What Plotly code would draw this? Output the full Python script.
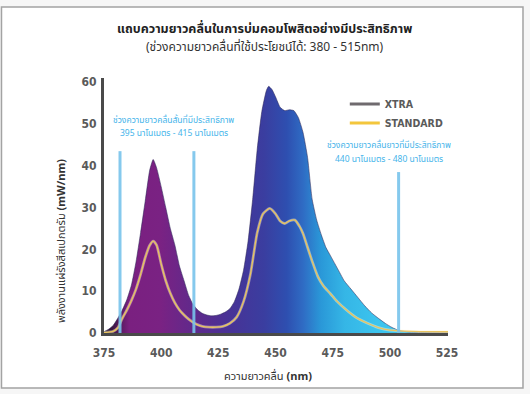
import plotly.graph_objects as go

# Spectral power readings (nm -> mW/nm)
xtra_nm = [375, 377, 379, 381, 383, 385, 387, 389, 391, 393, 395, 396.5, 398, 400, 402,
           404, 406, 408, 410, 412, 414, 416, 418, 420, 422, 424, 426, 428, 430, 432,
           434, 436, 438, 440, 442, 444, 446, 447, 448.5, 450, 452, 454, 456, 458, 460,
           462, 464, 466, 468, 470, 472, 474, 476, 478, 480, 483, 486, 489, 492, 495,
           498, 501, 504, 508, 515, 526]
xtra_val = [0.3, 0.9, 1.8, 3.5, 5.5, 8, 11.5, 17, 24, 31.5, 39, 41.5, 39.5, 35, 30,
            25, 21, 16, 12.5, 9, 6.8, 5.5, 4.7, 4.3, 4.1, 4.2, 4.5, 5.0, 5.8, 7.5,
            10.5, 15, 22, 32, 44, 53, 58, 59, 58.2, 56.5, 54, 53.2, 53.4, 53.2, 51.5,
            48, 42, 32, 27, 23.5, 20.5, 18.5, 16.5, 14.5, 12.5, 10.5, 8.5, 6.5, 4.8, 3.5,
            2.3, 1.3, 0.6, 0.25, 0.1, 0.05]

std_nm = [375, 379, 381, 383, 385, 387, 389, 391, 393, 395, 396.5, 398, 400, 402, 404,
          406, 408, 410, 412, 415, 418, 421, 424, 427, 430, 433, 436, 439, 442, 444.5,
          447.5, 450, 452, 454, 456, 458.5, 460.5, 462, 464, 466, 468.5, 471, 474, 477,
          481, 485, 490, 495, 500, 510, 526]
std_val = [0.1, 0.4, 1.2, 3.5, 5.5, 7.8, 10.5, 14, 18, 21, 22, 21, 16.5, 12.5, 9.5,
           7.2, 5.5, 4.3, 3.3, 2.2, 1.6, 1.4, 1.4, 1.6, 2.3, 3.8, 7.5, 14, 24, 28.5,
           29.8, 28.5, 26.8, 26.2, 26.8, 27, 25.5, 23.8, 20.5, 17.2, 13.5, 11.2, 9.4, 7.5,
           5.5, 3.8, 2.4, 1.3, 0.7, 0.4, 0.3]

# Vertical marker lines (nm) and their heights
marker_nm = [382, 414.3, 503.8]
marker_top = [43.5, 43.5, 38.5]

x_ticks = [375, 400, 425, 450, 475, 500, 525]
y_ticks = [0, 10, 20, 30, 40, 50, 60]

title_text = "<b>แถบความยาวคลื่นในการบ่มคอมโพสิตอย่างมีประสิทธิภาพ</b>"
subtitle_text = "(ช่วงความยาวคลื่นที่ใช้ประโยชน์ได้: 380 - 515nm)"
short_band = ["ช่วงความยาวคลื่นสั้นที่มีประสิทธิภาพ", "395 นาโนเมตร - 415 นาโนเมตร"]
long_band = ["ช่วงความยาวคลื่นยาวที่มีประสิทธิภาพ", "440 นาโนเมตร - 480 นาโนเมตร"]

COND = "Liberation Sans Narrow, DejaVu Sans Condensed, Roboto, sans-serif"
THAI = "Noto Sans Thai, Noto Sans, sans-serif"

spectrum_scale = [
    [0.00, "#1a1020"],
    [0.04, "#4a1850"],
    [0.085, "#7a2080"],
    [0.19, "#7a2283"],
    [0.31, "#5e2a8c"],
    [0.42, "#483296"],
    [0.54, "#3a3ea0"],
    [0.615, "#2e4fb0"],
    [0.67, "#2f6cc4"],
    [0.73, "#2a98d8"],
    [0.81, "#35b6e6"],
    [0.92, "#3cc4ee"],
    [1.00, "#3cc4ee"],
]

fig = go.Figure()

fig.add_trace(go.Scatter(
    x=xtra_nm, y=xtra_val, mode="lines", fill="tozeroy",
    line=dict(color="rgba(45,40,90,0.55)", width=1, shape="spline", smoothing=0.5),
    fillgradient=dict(type="horizontal", colorscale=spectrum_scale, start=375, stop=505),
    showlegend=False, hoverinfo="skip",
))

# Standard curve: soft halo under a thin yellow line
fig.add_trace(go.Scatter(
    x=std_nm, y=std_val, mode="lines",
    line=dict(color="rgba(255,245,215,0.45)", width=2.8, shape="spline", smoothing=0.6),
    showlegend=False, hoverinfo="skip",
))
fig.add_trace(go.Scatter(
    x=std_nm, y=std_val, mode="lines",
    line=dict(color="#e9c45e", width=1.3, shape="spline", smoothing=0.6),
    showlegend=False, hoverinfo="skip",
))

# Legend entries
fig.add_trace(go.Scatter(x=[None], y=[None], mode="lines", name="XTRA",
                         line=dict(color="#6f6a6e", width=3)))
fig.add_trace(go.Scatter(x=[None], y=[None], mode="lines", name="STANDARD",
                         line=dict(color="#f3c63c", width=3)))

shapes = []
# Outer frame
shapes.append(dict(type="rect", xref="paper", yref="paper",
                   x0=-0.298, x1=1.218, y0=-0.2157, y1=1.278,
                   line=dict(color="#a3a3a3", width=1.5), fillcolor="white", layer="below"))
for xm, top in zip(marker_nm, marker_top):
    shapes.append(dict(type="line", xref="x", yref="y", x0=xm, x1=xm, y0=0, y1=top,
                       line=dict(color="rgba(120,195,235,0.9)", width=3), layer="above"))


def label(text, x, y, size, color="#333", xref="paper", yref="paper", angle=0):
    return dict(text=text, xref=xref, yref=yref, x=x, y=y, showarrow=False,
                xanchor="center", yanchor="middle", textangle=angle,
                font=dict(family=THAI, size=size, color=color))


BAND_BLUE = "#45b4ea"
annotations = [
    label(title_text, 0.468, 1.192, 12.5, "#222"),
    label(subtitle_text, 0.468, 1.122, 12),
    label(short_band[0], 405.6, 50.9, 8.5, BAND_BLUE, "x", "y"),
    label(short_band[1], 405.6, 47.7, 8.5, BAND_BLUE, "x", "y"),
    label(long_band[0], 499.6, 44.9, 8.5, BAND_BLUE, "x", "y"),
    label(long_band[1], 499.6, 41.6, 8.5, BAND_BLUE, "x", "y"),
    label("พลังงานแผ่รังสีสเปกตรัม <b>(mW/nm)</b>", -0.122, 0.361, 11, angle=-90),
    label("ความยาวคลื่น <b>(nm)</b>", 0.477, -0.1725, 11),
]

fig.update_layout(
    width=530, height=394,
    margin=dict(l=104, r=82, t=78, b=61),
    paper_bgcolor="#f6f6f6",
    plot_bgcolor="rgba(0,0,0,0)",
    shapes=shapes,
    annotations=annotations,
    showlegend=True,
    legend=dict(x=0.70, y=0.955, xanchor="left", yanchor="top",
                bgcolor="rgba(0,0,0,0)",
                font=dict(family=COND, size=10.5, color="#5a5a5a", weight="bold"),
                tracegroupgap=0),
    xaxis=dict(range=[375, 525.4], tickvals=x_ticks, showgrid=False, zeroline=False,
               showline=True, linecolor="#4a4a4a", linewidth=3,
               ticks="outside", ticklen=7, tickcolor="rgba(0,0,0,0)",
               tickfont=dict(family=COND, size=12, color="#5a5a5a", weight="bold")),
    yaxis=dict(range=[0, 61], tickvals=y_ticks, showgrid=False, zeroline=False,
               showline=True, linecolor="#4a4a4a", linewidth=3,
               ticks="outside", ticklen=2, tickcolor="rgba(0,0,0,0)",
               tickfont=dict(family=COND, size=12, color="#5a5a5a", weight="bold")),
)

fig.write_html("out.html")
